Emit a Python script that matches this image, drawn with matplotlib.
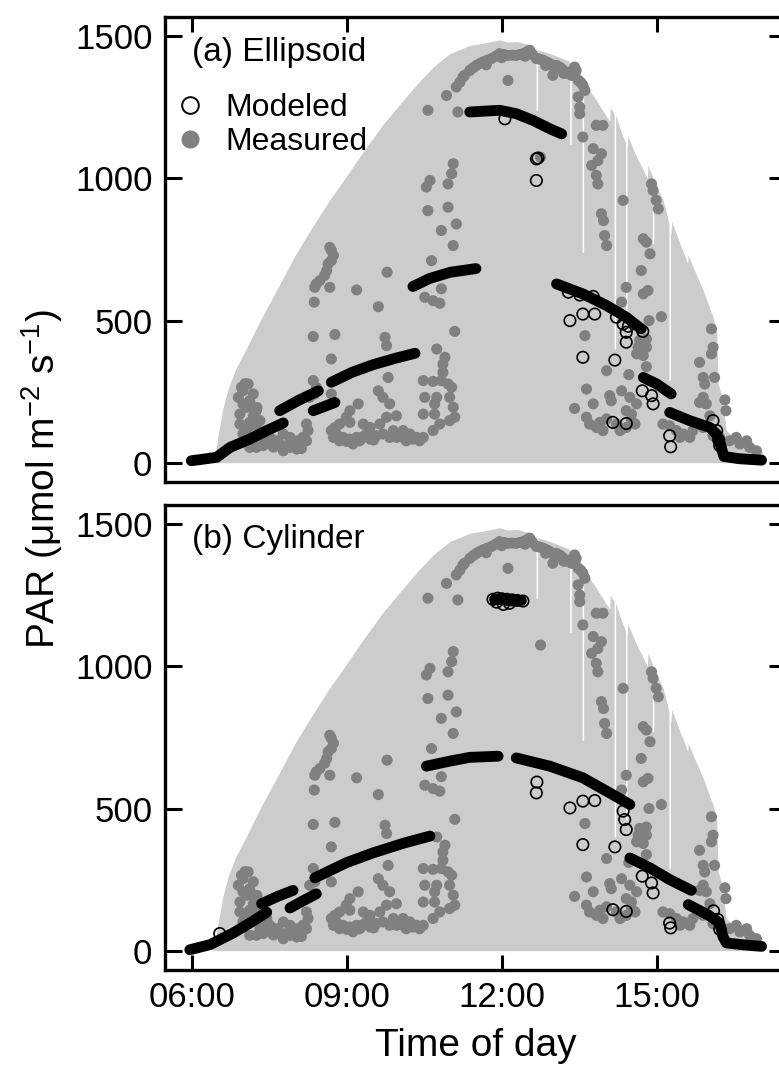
import matplotlib
matplotlib.use("Agg")
import matplotlib.pyplot as plt
from matplotlib.lines import Line2D

plt.rcParams['font.family'] = ['Liberation Sans', 'DejaVu Sans']
plt.rcParams['mathtext.fontset'] = 'custom'
plt.rcParams['mathtext.rm'] = 'Liberation Sans'
plt.rcParams['mathtext.it'] = 'Liberation Sans:italic'

# ---------------- data (time in decimal hours, PAR in umol m-2 s-1) ----------------
# clear-sky / above-canopy envelope (grey area); narrow notches are single-minute drops
env_t = [6.40, 6.47, 6.52, 6.60, 6.70, 6.85, 7.05, 7.35, 7.65, 8.00, 8.30, 8.67, 9.00,
         9.32, 9.70, 10.09, 10.40, 10.67, 11.00, 11.38, 11.70, 11.95, 12.10, 12.30,
         12.55, 12.665, 12.665, 12.695, 12.695, 12.93, 13.315, 13.315, 13.345, 13.345,
         13.555, 13.555, 13.585, 13.585, 13.70, 13.83, 14.09, 14.10, 14.175, 14.175,
         14.205, 14.205, 14.30, 14.395, 14.395, 14.425, 14.425, 14.43, 14.44, 14.60,
         14.74, 14.82, 14.83, 14.915, 14.915, 14.945, 14.945, 15.05, 15.12, 15.20,
         15.235, 15.235, 15.265, 15.265, 15.28, 15.29, 15.45, 15.51, 15.60, 15.61,
         15.70, 15.90, 16.09, 16.16, 16.19, 16.25, 16.35, 16.54, 16.80, 17.03, 17.09]
env_v = [0, 50, 110, 190, 260, 330, 400, 510, 610, 730, 820, 925, 1010,
         1095, 1190, 1275, 1340, 1392, 1440, 1468, 1478, 1488, 1480, 1482,
         1470, 1455, 1240, 1240, 1452, 1440, 1412, 1120, 1120, 1410,
         1360, 740, 740, 1355, 1310, 1275, 1200, 1250, 1230, 400,
         400, 1225, 1170, 1125, 460, 460, 1122, 1105, 1150, 1080,
         1030, 1000, 1045, 1010, 770, 770, 1005, 950, 925, 870,
         840, 290, 290, 835, 800, 850, 770, 745, 700, 730,
         690, 606, 512, 465, 277, 242, 113, 83, 66, 42, 0]

# measured PAR (grey filled dots), read by cluster
meas_dawn = [(6.96, 265), (7.09, 277), (7.03, 278), (6.99, 253), (7.19, 242), (6.90, 230),
             (7.12, 218), (6.99, 207), (7.25, 183), (6.93, 171), (7.06, 195), (7.19, 165),
             (6.93, 136), (7.12, 142), (7.06, 113), (7.25, 124), (6.99, 101), (7.45, 113),
             (7.38, 89), (7.32, 77), (7.51, 89), (7.51, 66), (7.38, 60), (7.25, 54),
             (7.12, 54), (7.64, 77), (7.70, 66), (7.77, 101), (7.90, 89), (7.90, 54),
             (8.03, 77), (8.03, 48), (8.09, 60), (8.15, 89), (8.22, 77), (8.22, 136),
             (8.25, 113), (7.77, 42), (7.26, 194), (7.32, 148), (7.32, 102), (7.58, 55),
             (7.83, 60), (7.96, 70), (8.12, 50)]
meas_morning = [(8.67, 758), (8.70, 747), (8.74, 729), (8.70, 711), (8.64, 700), (8.61, 676),
                (8.57, 659), (8.48, 641), (8.41, 629), (8.38, 617), (8.67, 617), (9.19, 608),
                (8.37, 565), (9.61, 549), (9.78, 670), (8.35, 444), (8.77, 451), (8.70, 365),
                (9.74, 441), (9.77, 412), (8.35, 289), (8.70, 242), (9.80, 300), (9.61, 253),
                (9.70, 230), (9.83, 207), (9.96, 165), (9.77, 160), (9.64, 136), (9.22, 207),
                (9.06, 183), (8.99, 160), (8.86, 136), (8.77, 124), (8.70, 113), (9.06, 142),
                (9.32, 136), (9.45, 124), (9.38, 101), (9.19, 89), (9.06, 83), (8.93, 89),
                (8.80, 101), (9.70, 101), (9.83, 89), (9.96, 89), (9.90, 113), (9.57, 95),
                (9.45, 83), (9.25, 77), (9.12, 66), (8.86, 77), (8.74, 89), (8.28, 230),
                (8.38, 242), (8.41, 265), (9.30, 90), (9.52, 80), (9.00, 75)]
meas_midmorning = [(10.09, 113), (10.22, 101), (10.35, 89), (10.48, 89), (10.09, 89), (10.28, 83),
                   (10.41, 77), (10.15, 77), (10.67, 113), (10.80, 136), (10.99, 148), (11.09, 160),
                   (11.06, 195), (10.99, 230), (11.03, 265), (10.96, 277), (10.74, 230), (10.70, 207),
                   (10.70, 171), (10.51, 230), (10.48, 171), (10.74, 400), (10.90, 371), (10.86, 347),
                   (10.86, 318), (10.83, 289), (10.48, 289), (10.67, 286), (11.09, 462), (10.64, 711),
                   (11.06, 764), (10.83, 612), (10.51, 582), (10.67, 570), (10.80, 561), (11.06, 1052),
                   (11.03, 1017), (10.96, 981), (10.61, 993), (10.54, 970), (10.57, 887), (10.96, 899),
                   (11.12, 840), (10.83, 817), (10.57, 1240), (11.15, 1234), (10.93, 1292)]
meas_noon = [(11.12, 1322), (11.19, 1339), (11.25, 1357), (11.28, 1363), (11.38, 1380),
             (11.45, 1390), (11.51, 1398), (11.58, 1405), (11.64, 1410), (11.72, 1416),
             (11.80, 1422), (11.88, 1430), (11.96, 1439), (12.04, 1436), (12.12, 1433),
             (12.20, 1434), (12.28, 1433), (12.35, 1436), (12.41, 1439), (12.48, 1445),
             (12.54, 1451), (12.60, 1435), (12.67, 1422), (12.73, 1420), (12.80, 1416),
             (12.87, 1410), (12.93, 1404), (12.99, 1395), (13.06, 1398), (13.12, 1392),
             (13.16, 1386), (13.25, 1375), (13.30, 1368), (13.35, 1363), (13.41, 1392),
             (13.44, 1380), (13.48, 1345), (13.53, 1338), (13.57, 1328), (13.61, 1310),
             (13.48, 1287), (13.51, 1251), (13.51, 1228), (12.99, 1363), (12.12, 1345),
             (12.75, 1075), (11.70, 1400), (12.00, 1425), (12.45, 1430), (12.85, 1398),
             (13.20, 1370)]
meas_afternoon = [(13.57, 1146), (13.83, 1187), (13.96, 1187), (13.77, 1105), (13.93, 1087),
                  (13.86, 1063), (13.74, 1046), (13.83, 1011), (13.86, 981), (14.35, 923),
                  (13.93, 876), (13.97, 852), (13.99, 799), (14.03, 764), (14.74, 788),
                  (14.80, 776), (14.90, 981), (14.93, 958), (14.99, 923), (15.03, 893),
                  (14.87, 735), (14.70, 676), (14.41, 617), (14.83, 606), (14.74, 594),
                  (15.09, 514), (14.85, 500), (14.32, 565), (13.61, 447), (14.80, 435),
                  (14.70, 400), (14.80, 406), (14.61, 383), (14.74, 377), (14.80, 338),
                  (14.03, 324), (14.46, 310), (13.64, 259), (14.09, 236), (14.12, 218),
                  (13.77, 207), (14.32, 253), (13.41, 191), (14.48, 230), (14.61, 207),
                  (14.41, 183), (14.51, 171), (13.64, 160), (13.70, 136), (13.90, 142),
                  (14.03, 154), (14.22, 136), (14.29, 113), (14.51, 148), (14.58, 136),
                  (13.83, 124), (13.96, 113), (14.41, 124), (14.64, 406), (14.67, 430)]
meas_evening = [(15.12, 136), (15.25, 130), (15.38, 113), (15.51, 101), (15.70, 113), (15.90, 124),
                (16.09, 95), (16.22, 89), (16.41, 77), (16.61, 66), (16.80, 54), (15.64, 89),
                (15.45, 89), (16.54, 89), (16.74, 77), (16.93, 42), (16.06, 471), (16.09, 406),
                (16.06, 383), (15.83, 353), (16.12, 300), (15.90, 300), (15.93, 277), (15.83, 212),
                (15.96, 207), (16.32, 221), (16.34, 183), (16.03, 165), (15.90, 230)]

# modeled PAR, panel (a) Ellipsoid: dense runs (drawn as thick traces) + scattered points
ell_runs = [
    [(5.99, 7), (6.20, 12), (6.48, 19), (6.74, 54), (7.12, 83), (7.45, 113), (7.77, 140)],
    [(7.70, 183), (8.05, 218), (8.45, 253)],
    [(8.35, 183), (8.77, 212)],
    [(8.70, 283), (9.10, 318), (9.51, 345), (9.95, 368), (10.32, 385)],
    [(10.28, 620), (10.60, 648), (11.00, 670), (11.50, 683)],
    [(11.38, 1234), (11.96, 1240), (12.28, 1228), (12.61, 1204), (12.93, 1175), (13.16, 1157)],
    [(13.06, 629), (13.57, 594), (14.03, 553), (14.41, 512), (14.70, 471)],
    [(14.74, 300), (15.00, 277), (15.28, 242)],
    [(15.25, 177), (15.64, 148), (16.03, 124), (16.16, 100), (16.25, 54), (16.30, 22),
     (16.60, 14), (17.03, 9)],
]
ell_points = [(12.06, 1210), (12.67, 1069), (12.70, 1072), (12.67, 993), (13.32, 500),
              (13.57, 523), (13.80, 523), (13.57, 371), (14.19, 361), (14.35, 488),
              (14.41, 459), (14.41, 424), (14.22, 512), (14.72, 253), (14.90, 236),
              (14.93, 207), (14.15, 142), (14.41, 138), (15.25, 95), (15.27, 56),
              (16.09, 148), (16.16, 113), (16.20, 80), (16.22, 60), (13.29, 600),
              (13.51, 590), (13.77, 585), (14.45, 480), (14.73, 462)]

# modeled PAR, panel (b) Cylinder
cyl_runs = [
    [(5.96, 3), (6.35, 21), (6.80, 62), (7.15, 100), (7.45, 135)],
    [(7.35, 165), (7.65, 190), (7.96, 212)],
    [(7.90, 150), (8.15, 175), (8.41, 200)],
    [(8.38, 256), (9.00, 310), (9.51, 344), (10.10, 378), (10.61, 403)],
    [(10.54, 649), (11.00, 667), (11.38, 680), (11.93, 684)],
    [(12.28, 678), (12.93, 649), (13.57, 608), (14.09, 555), (14.48, 514)],
    [(14.48, 326), (14.87, 291), (15.25, 250), (15.67, 212)],
    [(15.61, 162), (16.00, 125), (16.22, 97), (16.28, 50), (16.35, 27), (16.70, 20), (17.03, 15)],
    [(11.86, 1236), (12.38, 1232)],
]
cyl_points = [(11.83, 1236), (11.92, 1240), (12.00, 1238), (12.10, 1236), (12.20, 1234),
              (12.30, 1232), (12.41, 1230), (12.03, 1218), (12.15, 1222), (11.90, 1226),
              (12.68, 593), (12.67, 555), (13.32, 502), (13.57, 526), (13.80, 528),
              (13.57, 373), (14.19, 365), (14.35, 491), (14.38, 461), (14.41, 426),
              (14.72, 262), (14.90, 238), (14.93, 203), (14.15, 144), (14.41, 138),
              (15.25, 97), (15.27, 80), (16.10, 140), (16.18, 110), (16.22, 75), (6.54, 60)]

panel_titles = ['(a) Ellipsoid', '(b) Cylinder']
xtick_vals = [6, 9, 12, 15]
xtick_labels = ['06:00', '09:00', '12:00', '15:00']
ytick_vals = [0, 500, 1000, 1500]

# ---------------- styling ----------------
ENV_C = '#cccccc'
MEAS_C = '#808080'
FS_TICK = 25
FS_LAB = 28

measured = meas_dawn + meas_morning + meas_midmorning + meas_noon + meas_afternoon + meas_evening
meas_t = [p[0] for p in measured]
meas_v = [p[1] for p in measured]

fig = plt.figure(figsize=(7.79, 10.66), dpi=100)
ax1 = fig.add_axes([0.2118, 0.5478, 0.797, 0.4362])
ax2 = fig.add_axes([0.2118, 0.0901, 0.797, 0.4362])

for k, (ax, runs, pts) in enumerate([(ax1, ell_runs, ell_points), (ax2, cyl_runs, cyl_points)]):
    ax.fill_between(env_t, 0, env_v, color=ENV_C, lw=0, zorder=1)
    ax.scatter(meas_t, meas_v, s=64, color=MEAS_C, edgecolors='none', zorder=2)
    for run in runs:
        ax.plot([p[0] for p in run], [p[1] for p in run], color='black', lw=7.8,
                solid_capstyle='round', solid_joinstyle='round', zorder=3)
    ax.scatter([p[0] for p in pts], [p[1] for p in pts], s=68, facecolors='none',
               edgecolors='black', linewidths=1.2, zorder=4)
    ax.set_xlim(5.48, 17.50)
    ax.set_ylim(-68, 1568)
    ax.set_yticks(ytick_vals)
    ax.set_yticklabels([str(v) for v in ytick_vals], fontsize=FS_TICK)
    ax.set_xticks(xtick_vals)
    for sp in ax.spines.values():
        sp.set_linewidth(2.4)
    ax.tick_params(axis='y', which='both', direction='in', length=12, width=2.2,
                   left=True, right=True, pad=9)
    if k == 0:
        ax.tick_params(axis='x', direction='in', length=11, width=2.2, top=True,
                       bottom=False, labelbottom=False)
    else:
        ax.tick_params(axis='x', direction='in', length=11, width=2.2, top=False,
                       bottom=True, labelbottom=True, pad=8)
        ax.set_xticklabels(xtick_labels, fontsize=FS_TICK)
    ax.text(0.043, 0.958, panel_titles[k], transform=ax.transAxes, fontsize=24,
            ha='left', va='top', zorder=6)

handles = [Line2D([], [], ls='none', marker='o', markersize=12, markerfacecolor='none',
                  markeredgecolor='black', markeredgewidth=1.4),
           Line2D([], [], ls='none', marker='o', markersize=12, markerfacecolor=MEAS_C,
                  markeredgecolor=MEAS_C)]
ax1.legend(handles, ['Modeled', 'Measured'], loc='upper left', bbox_to_anchor=(0.02, 0.836),
           frameon=False, fontsize=23, handlelength=0.8, handletextpad=0.7,
           labelspacing=0.12, borderpad=0, borderaxespad=0)

fig.text(0.6104, 0.0188, 'Time of day', fontsize=FS_LAB, ha='center', va='center')
fig.text(0.054, 0.5507, 'PAR (μmol m$^{-2}$ s$^{-1}$)', fontsize=FS_LAB, rotation=90,
         ha='center', va='center')

fig.savefig('out.png', dpi=100)
